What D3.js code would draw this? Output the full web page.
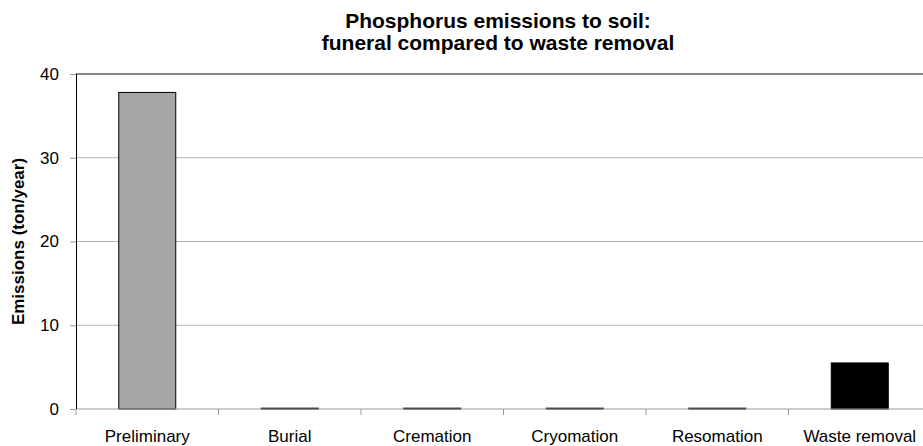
<!DOCTYPE html>
<html><head><meta charset="utf-8">
<script src="https://cdn.jsdelivr.net/npm/d3@7"></script>
<style>body{margin:0;background:#fff}svg{display:block;font-family:"Liberation Sans",Arial,sans-serif}</style>
</head><body>
<svg id="c" width="923" height="446"></svg>
<script>
const categories = ["Preliminary","Burial","Cremation","Cryomation","Resomation","Waste removal"];
const values = [37.8, 0.1, 0.1, 0.1, 0.1, 5.5];
const barColors = ["#a6a6a6","#000000","#000000","#000000","#000000","#000000"];
const yTicks = [0,10,20,30,40];
const titleLines = ["Phosphorus emissions to soil:","funeral compared to waste removal"];
const yLabel = "Emissions (ton/year)";

(function(){
const svg = d3.select("#c");
const mLeft = 76, mRight = 931, mTop = 74, mBottom = 409;
const x = d3.scaleBand().domain(categories).range([mLeft, mRight]).padding(0);
const y = d3.scaleLinear().domain([0, 40]).range([mBottom, mTop]);

// gridlines
svg.append("g").selectAll("line").data(yTicks.filter(d => d > 0 && d < 40)).join("line")
  .attr("x1", mLeft).attr("x2", mRight).attr("y1", d => y(d)).attr("y2", d => y(d))
  .attr("stroke", "#b4b4b4").attr("stroke-width", 1);
// top border
svg.append("line").attr("x1", mLeft).attr("x2", mRight).attr("y1", y(40)).attr("y2", y(40))
  .attr("stroke", "#888").attr("stroke-width", 2);

// bars
const bw = x.bandwidth();
svg.append("g").selectAll("rect").data(categories).join("rect")
  .attr("x", d => x(d) + bw * 0.3)
  .attr("width", bw * 0.4)
  .attr("y", (d, i) => y(values[i]))
  .attr("height", (d, i) => y(0) - y(values[i]))
  .attr("fill", (d, i) => barColors[i])
  .attr("stroke", "#000").attr("stroke-width", 1);

// x axis
const xAxis = svg.append("g").attr("transform", `translate(0,${mBottom})`);
xAxis.append("line").attr("x1", mLeft).attr("x2", mRight).attr("stroke", "#999").attr("stroke-width", 1);
xAxis.selectAll("line.t").data(categories).join("line").attr("class","t")
  .attr("x1", d => x(d)).attr("x2", d => x(d)).attr("y1", 0).attr("y2", 6)
  .attr("stroke", "#999");
xAxis.selectAll("text").data(categories).join("text")
  .attr("x", d => x(d) + bw / 2).attr("y", 32.5)
  .attr("text-anchor", "middle").attr("font-size", 17).attr("fill", "#000").text(d => d);

// y axis
const yAxis = svg.append("g").attr("transform", `translate(${mLeft},0)`)
  .call(d3.axisLeft(y).tickValues(yTicks).tickSize(6).tickPadding(11).tickFormat(d3.format("d")));
yAxis.select(".domain").attr("stroke", "#000").attr("d", `M0.5,${mTop}V${mBottom}`);
yAxis.selectAll(".tick line").attr("stroke", "#999");
yAxis.selectAll(".tick text").attr("font-size", 17).attr("font-family", "Liberation Sans, Arial, sans-serif").attr("fill", "#000");

// title
svg.append("text").attr("text-anchor", "middle").attr("font-size", 21).attr("font-weight", "bold")
  .selectAll("tspan").data(titleLines).join("tspan")
  .attr("x", 498).attr("y", (d, i) => 28 + i * 21.5).text(d => d);

// y label
svg.append("text").attr("transform", `translate(24,${(mTop + mBottom) / 2}) rotate(-90)`)
  .attr("text-anchor", "middle").attr("font-size", 17).attr("font-weight", "bold").text(yLabel);
})();
</script>
</body></html>
